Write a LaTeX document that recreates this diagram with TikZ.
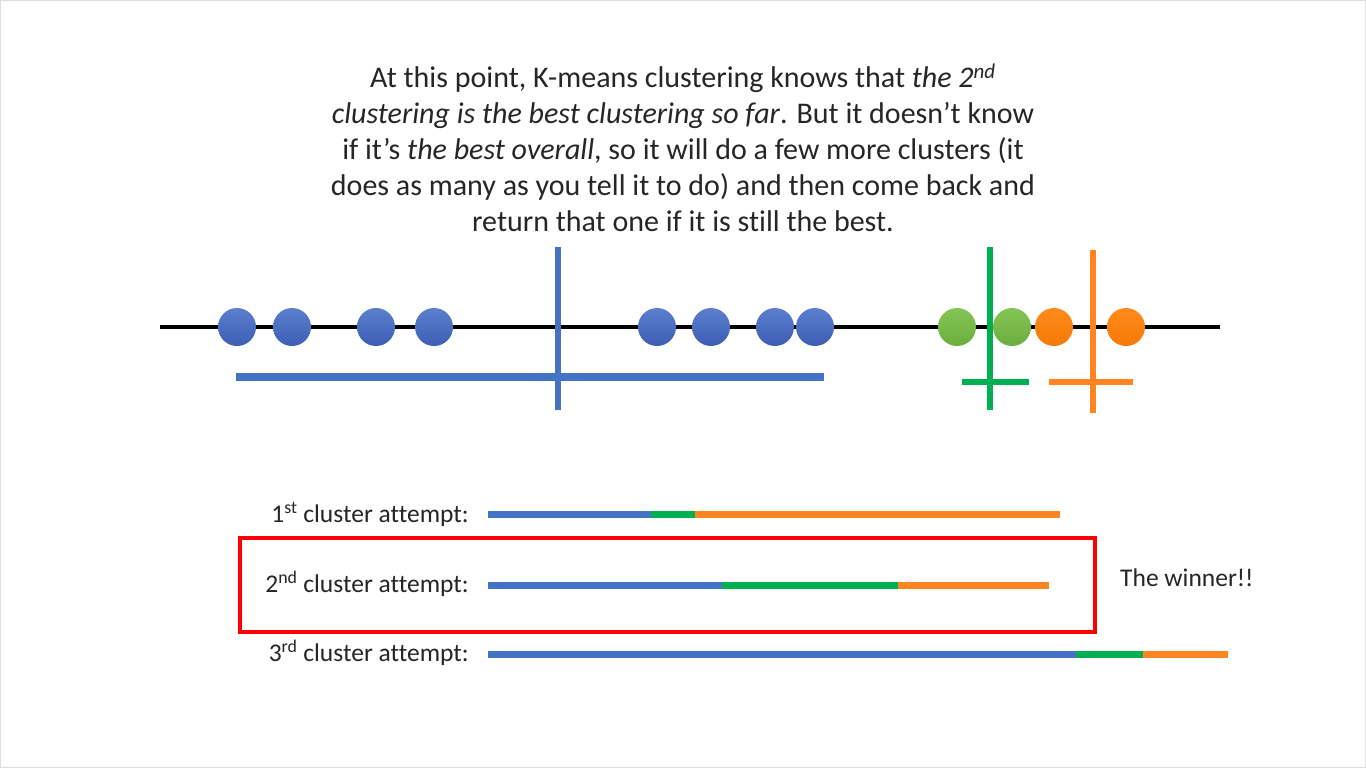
\documentclass[tikz,border=0pt]{standalone}
\usepackage{fontspec}
\setmainfont[Ligatures={NoCommon}]{Carlito}
\begin{document}
\begin{tikzpicture}[x=1pt,y=-1pt,
  dotB/.style={circle,minimum size=38pt,inner sep=0pt,top color=kblueL,bottom color=kblueD,draw=none},
  dotG/.style={circle,minimum size=38pt,inner sep=0pt,top color=kgreenL,bottom color=kgreenD,draw=none},
  dotO/.style={circle,minimum size=38pt,inner sep=0pt,top color=korangeL,bottom color=korangeD,draw=none},
  lbl/.style={anchor=east,inner sep=0pt,font=\fontsize{25.5}{30}\selectfont,text=ktext},
  bar/.style={line width=7pt}
]
\definecolor{kblue}{HTML}{4472C4}
\definecolor{kblueL}{HTML}{5B7FCE}
\definecolor{kblueD}{HTML}{3D5EB4}
\definecolor{kgreen}{HTML}{00B050}
\definecolor{kgreenL}{HTML}{86C454}
\definecolor{kgreenD}{HTML}{6BAE3E}
\definecolor{korange}{HTML}{FF8521}
\definecolor{korangeL}{HTML}{FF8A1C}
\definecolor{korangeD}{HTML}{F57A05}
\definecolor{ktext}{HTML}{262626}
\definecolor{kred}{HTML}{FF0000}
\definecolor{kframe}{HTML}{DDDDDD}
\useasboundingbox (0,0) rectangle (1366,768);
\fill[white] (0,0) rectangle (1366,768);
\draw[kframe,line width=2pt] (0,0) rectangle (1366,768);

% title text
\node[align=center,font=\fontsize{30}{36}\selectfont,text=ktext,inner sep=0pt] (title) at (683,148)
{At this point, K-means clustering knows that \textit{the 2\textsuperscript{nd}}\\
\textit{clustering is the best clustering so far}. But it doesn’t know\\
if it’s \textit{the best overall}, so it will do a few more clusters (it\\
does as many as you tell it to do) and then come back and\\
return that one if it is still the best.};

% axis
\coordinate (axL) at (160,327);
\coordinate (axR) at (1220,327);
\draw[line width=4pt,black] (axL) -- (axR);

% dots
\foreach \x/\n in {237/b1,292/b2,376/b3,434/b4,657/b5,711/b6,775/b7,815/b8}
  \node[dotB] (\n) at (\x,327) {};
\node[dotG] (g1) at (957,327) {};
\node[dotG] (g2) at (1012,327) {};
\node[dotO] (o1) at (1054,327) {};
\node[dotO] (o2) at (1126,327) {};

% blue cross
\coordinate (bvT) at (558,247);
\coordinate (bvB) at (558,410);
\coordinate (bhL) at (236,377);
\coordinate (bhR) at (824,377);
\draw[kblue,line width=6pt] (bvT) -- (bvB);
\draw[kblue,line width=8pt] (bhL) -- (bhR);

% green cross
\coordinate (gvT) at (990,247);
\coordinate (gvB) at (990,410);
\coordinate (ghL) at (962,382);
\coordinate (ghR) at (1029,382);
\draw[kgreen,line width=6pt] (gvT) -- (gvB);
\draw[kgreen,line width=6pt] (ghL) -- (ghR);

% orange cross
\coordinate (ovT) at (1093,250);
\coordinate (ovB) at (1093,413);
\coordinate (ohL) at (1049,382);
\coordinate (ohR) at (1133,382);
\draw[korange,line width=6pt] (ovT) -- (ovB);
\draw[korange,line width=6pt] (ohL) -- (ohR);

% attempts
\node[lbl] (l1) at (469,514) {1\textsuperscript{st} cluster attempt:};
\node[lbl] (l2) at (469,584) {2\textsuperscript{nd} cluster attempt:};
\node[lbl] (l3) at (469,653) {3\textsuperscript{rd} cluster attempt:};

\coordinate (a1) at (488,514); \coordinate (a1b) at (651,514);
\coordinate (a1g) at (695,514); \coordinate (a1o) at (1060,514);
\draw[bar,kblue] (a1) -- (a1b);
\draw[bar,kgreen] (a1b) -- (a1g);
\draw[bar,korange] (a1g) -- (a1o);

\coordinate (a2) at (488,585); \coordinate (a2b) at (722,585);
\coordinate (a2g) at (898,585); \coordinate (a2o) at (1049,585);
\draw[bar,kblue] (a2) -- (a2b);
\draw[bar,kgreen] (a2b) -- (a2g);
\draw[bar,korange] (a2g) -- (a2o);

\coordinate (a3) at (488,654); \coordinate (a3b) at (1076,654);
\coordinate (a3g) at (1143,654); \coordinate (a3o) at (1228,654);
\draw[bar,kblue] (a3) -- (a3b);
\draw[bar,kgreen] (a3b) -- (a3g);
\draw[bar,korange] (a3g) -- (a3o);

% winner box
\coordinate (rbL) at (240,538);
\coordinate (rbR) at (1095,632);
\draw[kred,line width=4pt] (rbL) rectangle (rbR);
\node[anchor=west,inner sep=0pt,font=\fontsize{25.5}{30}\selectfont,text=ktext] (win) at (1120,578) {The winner!!};
\end{tikzpicture}
\end{document}
